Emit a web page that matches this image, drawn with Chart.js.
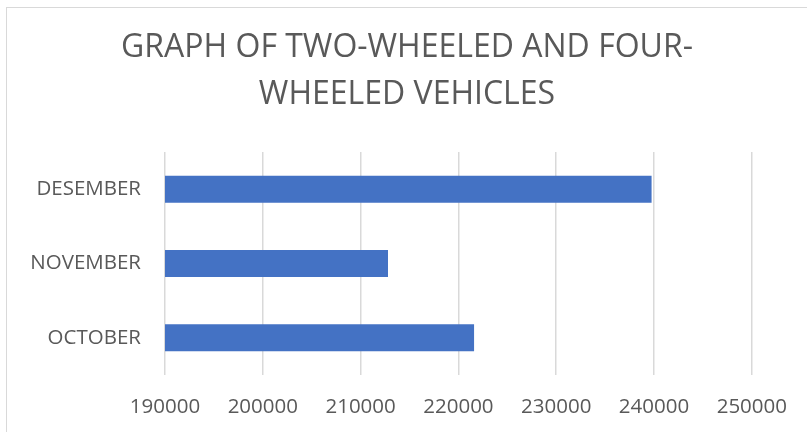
<!DOCTYPE html>
<html>
<head>
<meta charset="utf-8">
<script src="https://cdn.jsdelivr.net/npm/chart.js@4/dist/chart.umd.min.js"></script>
<style>
  html, body { margin: 0; padding: 0; background: #fff; overflow: hidden; }
  #frame { position: absolute; left: 6px; top: 7px; width: 900px; height: 500px; border-left: 1px solid #d9d9d9; border-top: 1px solid #d9d9d9; }
  #wrap { position: absolute; left: 0; top: 0; width: 807px; height: 432px; }
</style>
</head>
<body>
<div id="frame"></div>
<div id="wrap"><canvas id="c" width="807" height="432"></canvas></div>
<script>
const titleLines = ["GRAPH OF TWO-WHEELED AND FOUR-", "WHEELED VEHICLES"];
const categories = ["DESEMBER", "NOVEMBER", "OCTOBER"];
const vehicles = [239750, 212800, 221600];
const axisMin = 190000;
const axisMax = 250000;
const axisStep = 10000;

const textColor = "#595959";
const fontFamily = "'Open Sans', 'Liberation Sans', sans-serif";

new Chart(document.getElementById("c"), {
  type: "bar",
  data: {
    labels: categories,
    datasets: [{
      label: "Vehicles",
      data: vehicles,
      backgroundColor: "#4472C4",
      borderWidth: 0,
      barPercentage: 0.364,
      categoryPercentage: 1.0
    }]
  },
  options: {
    indexAxis: "y",
    responsive: false,
    animation: false,
    layout: { padding: { left: 7, right: 0, top: 0, bottom: 0 } },
    plugins: {
      legend: { display: false },
      tooltip: { enabled: false },
      title: {
        display: true,
        text: titleLines,
        color: textColor,
        font: { family: fontFamily, size: 32, weight: "normal", lineHeight: 47 / 32 },
        padding: { top: 24, bottom: 34 }
      }
    },
    scales: {
      x: {
        min: axisMin,
        max: axisMax,
        ticks: {
          stepSize: axisStep,
          color: textColor,
          font: { family: fontFamily, size: 20.5 },
          padding: 20,
          callback: (v) => String(v)
        },
        grid: { color: "#d9d9d9", lineWidth: 1.5, drawTicks: false },
        border: { display: false },
        afterFit: (s) => { s.height = 432 - 375; }
      },
      y: {
        ticks: {
          color: textColor,
          font: { family: fontFamily, size: 20.5 },
          padding: 24
        },
        grid: { display: false, drawTicks: false },
        border: { display: false },
        afterFit: (s) => { s.width = 165 - 7; }
      },
      spacer: {
        type: "linear",
        position: "right",
        display: true,
        ticks: { display: false },
        grid: { display: false, drawTicks: false },
        border: { display: false },
        afterFit: (s) => { s.width = 807 - 754; }
      }
    }
  }
});
</script>
</body>
</html>
